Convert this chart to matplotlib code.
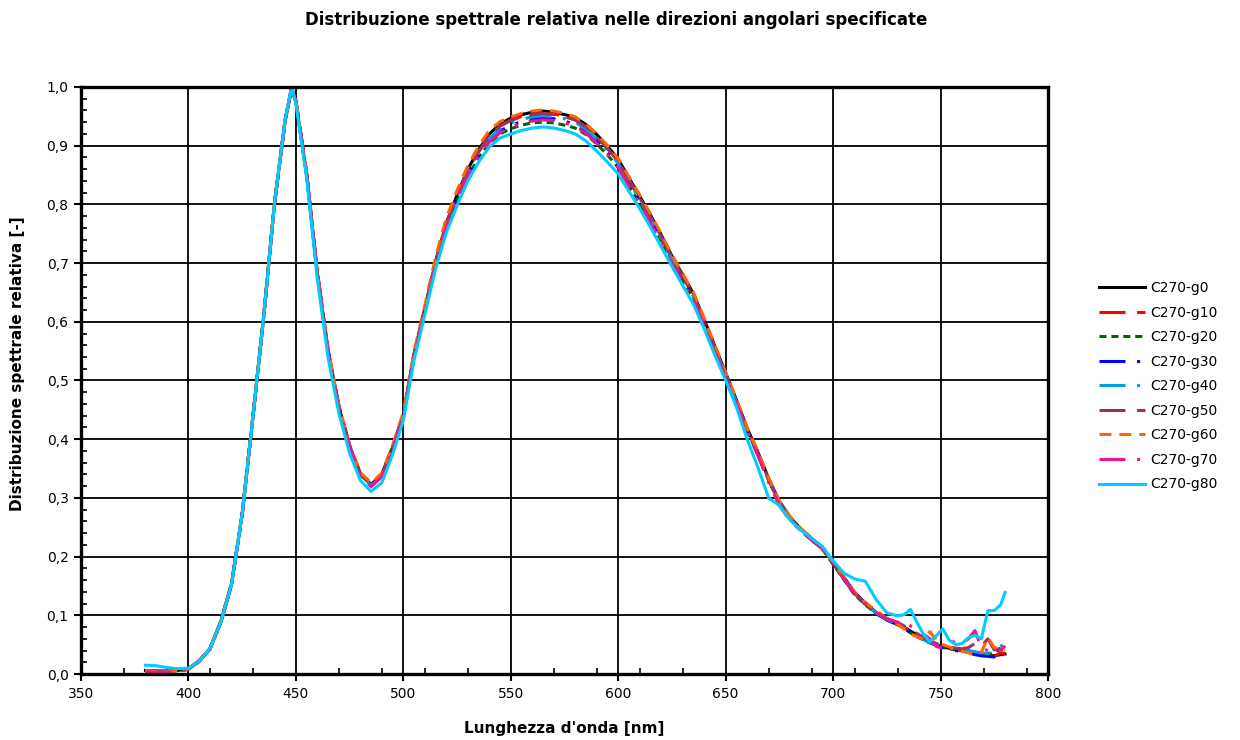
import matplotlib.pyplot as plt
from matplotlib.ticker import MultipleLocator, FuncFormatter

# Lunghezze d'onda [nm]
lunghezze = [380, 385, 390, 395, 400, 405, 410, 415, 420, 425, 430, 435, 440, 445, 448,
             450, 455, 460, 465, 470, 475, 480, 485, 490, 495, 500, 505, 510, 515, 520, 525, 530, 535, 540, 545,
             550, 555, 560, 565, 570, 575, 580, 585, 590, 595, 600, 605, 610, 615, 620, 625, 630, 635, 640, 645,
             650, 655, 660, 665, 670, 675, 680, 685, 690, 695, 700, 705, 710, 715, 720, 725, 730,
             733, 736, 739, 742, 745, 748, 751, 754, 757, 760, 763, 766, 769, 772, 775, 778, 780]

# Distribuzione spettrale relativa per ogni direzione angolare
g0 = [0.006, 0.005, 0.005, 0.006, 0.009, 0.022, 0.043, 0.088, 0.152, 0.272, 0.438, 0.608, 0.800, 0.943, 1.000,
      0.975, 0.850, 0.680, 0.548, 0.455, 0.388, 0.340, 0.323, 0.340, 0.386, 0.442, 0.545, 0.622, 0.702, 0.768, 0.816, 0.860, 0.893, 0.920, 0.937,
      0.947, 0.953, 0.957, 0.959, 0.957, 0.953, 0.948, 0.936, 0.919, 0.899, 0.877, 0.845, 0.814, 0.782, 0.748, 0.712, 0.680, 0.648, 0.604, 0.558,
      0.513, 0.467, 0.419, 0.378, 0.333, 0.294, 0.267, 0.247, 0.231, 0.216, 0.190, 0.165, 0.139, 0.121, 0.105, 0.094, 0.087,
      0.080, 0.073, 0.067, 0.060, 0.055, 0.050, 0.046, 0.044, 0.042, 0.040, 0.039, 0.037, 0.035, 0.032, 0.031, 0.033, 0.034]
g10 = [0.004, 0.004, 0.004, 0.005, 0.009, 0.023, 0.044, 0.090, 0.154, 0.274, 0.440, 0.610, 0.802, 0.945, 0.995,
       0.978, 0.855, 0.685, 0.552, 0.457, 0.390, 0.342, 0.325, 0.341, 0.387, 0.441, 0.545, 0.623, 0.703, 0.768, 0.815, 0.858, 0.890, 0.917, 0.934,
       0.944, 0.950, 0.954, 0.955, 0.954, 0.950, 0.944, 0.932, 0.915, 0.896, 0.873, 0.842, 0.811, 0.779, 0.745, 0.709, 0.677, 0.645, 0.601, 0.555,
       0.510, 0.464, 0.416, 0.375, 0.331, 0.292, 0.265, 0.245, 0.229, 0.214, 0.188, 0.163, 0.137, 0.119, 0.104, 0.093, 0.085,
       0.079, 0.072, 0.066, 0.060, 0.054, 0.050, 0.046, 0.043, 0.042, 0.040, 0.038, 0.036, 0.034, 0.031, 0.030, 0.036, 0.035]
g20 = [0.005, 0.004, 0.004, 0.005, 0.008, 0.022, 0.043, 0.087, 0.151, 0.271, 0.437, 0.607, 0.799, 0.942, 0.998,
       0.974, 0.850, 0.681, 0.549, 0.454, 0.387, 0.340, 0.323, 0.339, 0.385, 0.439, 0.541, 0.617, 0.696, 0.760, 0.806, 0.848, 0.879, 0.904, 0.920,
       0.929, 0.935, 0.939, 0.940, 0.939, 0.935, 0.930, 0.919, 0.903, 0.884, 0.863, 0.832, 0.802, 0.771, 0.738, 0.703, 0.671, 0.640, 0.597, 0.552,
       0.508, 0.463, 0.415, 0.374, 0.330, 0.291, 0.264, 0.244, 0.228, 0.213, 0.187, 0.161, 0.135, 0.118, 0.103, 0.092, 0.084,
       0.078, 0.070, 0.064, 0.058, 0.053, 0.049, 0.045, 0.043, 0.041, 0.039, 0.037, 0.036, 0.034, 0.033, 0.037, 0.042, 0.040]
g30 = [0.005, 0.005, 0.004, 0.005, 0.009, 0.022, 0.043, 0.088, 0.152, 0.272, 0.439, 0.609, 0.801, 0.944, 0.997,
       0.976, 0.852, 0.682, 0.550, 0.455, 0.388, 0.340, 0.322, 0.339, 0.386, 0.440, 0.543, 0.619, 0.699, 0.763, 0.810, 0.852, 0.884, 0.909, 0.925,
       0.935, 0.941, 0.945, 0.947, 0.946, 0.942, 0.936, 0.925, 0.908, 0.889, 0.867, 0.836, 0.806, 0.774, 0.741, 0.706, 0.674, 0.642, 0.599, 0.553,
       0.509, 0.463, 0.415, 0.374, 0.330, 0.291, 0.264, 0.245, 0.229, 0.214, 0.188, 0.162, 0.136, 0.119, 0.103, 0.092, 0.084,
       0.078, 0.071, 0.065, 0.059, 0.054, 0.049, 0.045, 0.042, 0.040, 0.038, 0.036, 0.033, 0.031, 0.030, 0.029, 0.031, 0.036]
g40 = [0.006, 0.005, 0.005, 0.006, 0.009, 0.022, 0.043, 0.088, 0.152, 0.272, 0.438, 0.608, 0.800, 0.943, 0.998,
       0.975, 0.851, 0.681, 0.549, 0.454, 0.387, 0.339, 0.321, 0.338, 0.385, 0.440, 0.543, 0.620, 0.700, 0.764, 0.811, 0.854, 0.886, 0.912, 0.929,
       0.939, 0.945, 0.949, 0.951, 0.949, 0.946, 0.940, 0.928, 0.911, 0.892, 0.870, 0.839, 0.808, 0.776, 0.742, 0.707, 0.675, 0.643, 0.600, 0.554,
       0.510, 0.464, 0.416, 0.375, 0.331, 0.292, 0.265, 0.246, 0.230, 0.215, 0.189, 0.164, 0.138, 0.120, 0.104, 0.093, 0.085,
       0.079, 0.072, 0.066, 0.059, 0.054, 0.050, 0.048, 0.045, 0.043, 0.041, 0.040, 0.038, 0.036, 0.035, 0.040, 0.047, 0.054]
g50 = [0.005, 0.004, 0.004, 0.005, 0.008, 0.022, 0.043, 0.088, 0.152, 0.272, 0.438, 0.608, 0.800, 0.943, 0.997,
       0.976, 0.852, 0.683, 0.551, 0.456, 0.389, 0.341, 0.323, 0.340, 0.386, 0.441, 0.544, 0.622, 0.702, 0.767, 0.814, 0.857, 0.889, 0.916, 0.933,
       0.943, 0.949, 0.953, 0.955, 0.953, 0.949, 0.944, 0.932, 0.915, 0.895, 0.873, 0.842, 0.811, 0.779, 0.745, 0.710, 0.678, 0.646, 0.602, 0.556,
       0.511, 0.465, 0.417, 0.376, 0.332, 0.293, 0.266, 0.246, 0.230, 0.215, 0.189, 0.164, 0.138, 0.120, 0.105, 0.094, 0.088,
       0.082, 0.075, 0.069, 0.062, 0.057, 0.052, 0.048, 0.046, 0.044, 0.043, 0.045, 0.052, 0.047, 0.060, 0.041, 0.044, 0.048]
g60 = [0.005, 0.004, 0.004, 0.005, 0.009, 0.023, 0.044, 0.089, 0.153, 0.273, 0.440, 0.611, 0.803, 0.946, 0.998,
       0.977, 0.854, 0.685, 0.553, 0.458, 0.391, 0.343, 0.325, 0.342, 0.390, 0.446, 0.550, 0.628, 0.710, 0.777, 0.824, 0.866, 0.899, 0.926, 0.941,
       0.949, 0.955, 0.959, 0.961, 0.959, 0.955, 0.949, 0.937, 0.920, 0.900, 0.878, 0.847, 0.816, 0.784, 0.750, 0.714, 0.682, 0.650, 0.606, 0.560,
       0.514, 0.468, 0.420, 0.379, 0.334, 0.295, 0.268, 0.248, 0.231, 0.216, 0.190, 0.165, 0.140, 0.122, 0.108, 0.095, 0.085,
       0.077, 0.069, 0.063, 0.060, 0.072, 0.058, 0.050, 0.046, 0.042, 0.039, 0.036, 0.034, 0.037, 0.062, 0.045, 0.043, 0.040]
g70 = [0.004, 0.003, 0.003, 0.004, 0.008, 0.021, 0.042, 0.086, 0.150, 0.270, 0.436, 0.606, 0.798, 0.940, 0.996,
       0.976, 0.852, 0.682, 0.550, 0.454, 0.387, 0.339, 0.319, 0.336, 0.383, 0.439, 0.542, 0.618, 0.697, 0.761, 0.807, 0.849, 0.881, 0.906, 0.922,
       0.932, 0.938, 0.942, 0.944, 0.943, 0.939, 0.933, 0.921, 0.904, 0.885, 0.862, 0.831, 0.800, 0.768, 0.734, 0.699, 0.667, 0.636, 0.593, 0.549,
       0.506, 0.461, 0.414, 0.372, 0.326, 0.287, 0.261, 0.244, 0.228, 0.213, 0.187, 0.162, 0.137, 0.120, 0.105, 0.094, 0.088,
       0.090, 0.082, 0.076, 0.068, 0.060, 0.047, 0.044, 0.050, 0.057, 0.052, 0.060, 0.074, 0.044, 0.040, 0.036, 0.040, 0.048]
g80 = [0.015, 0.014, 0.011, 0.009, 0.010, 0.022, 0.043, 0.088, 0.152, 0.272, 0.438, 0.608, 0.800, 0.945, 1.000,
       0.972, 0.845, 0.672, 0.538, 0.444, 0.376, 0.330, 0.311, 0.326, 0.374, 0.432, 0.535, 0.612, 0.690, 0.752, 0.798, 0.840, 0.872, 0.898, 0.913,
       0.920, 0.926, 0.930, 0.932, 0.930, 0.926, 0.920, 0.908, 0.891, 0.872, 0.852, 0.822, 0.793, 0.761, 0.728, 0.694, 0.662, 0.630, 0.588, 0.543,
       0.500, 0.455, 0.400, 0.352, 0.300, 0.287, 0.262, 0.245, 0.231, 0.217, 0.193, 0.172, 0.162, 0.158, 0.127, 0.104, 0.099,
       0.101, 0.110, 0.088, 0.068, 0.055, 0.065, 0.077, 0.058, 0.050, 0.052, 0.062, 0.066, 0.060, 0.108, 0.108, 0.118, 0.139]

etichette = ["C270-g0", "C270-g10", "C270-g20", "C270-g30", "C270-g40",
             "C270-g50", "C270-g60", "C270-g70", "C270-g80"]
serie = [g0, g10, g20, g30, g40, g50, g60, g70, g80]

# Colori e tratteggi stile Excel
colori = ["#000000", "#FF0000", "#006600", "#0000FF", "#00A0E0",
          "#993366", "#FF6600", "#F0148C", "#00CCFF"]
tratti = ["-", (0, (8.5, 3.8)), (0, (2.3, 1.6)), (0, (8.5, 3.8, 1, 3.8)), (0, (8.5, 3.8, 1, 3.8)),
          (0, (8.5, 3.8)), (0, (3.9, 2.6)), (0, (8.5, 3.8, 1, 3.8)), "-"]

fig = plt.figure(figsize=(12.4, 7.4), dpi=100)
ax = fig.add_axes([81 / 1240, 1 - 674 / 740, (1048 - 81) / 1240, (674 - 87) / 740])

for valori, nome, col, ls in zip(serie, etichette, colori, tratti):
    ax.plot(lunghezze, valori, color=col, linestyle=ls, linewidth=2.2, label=nome)

ax.set_xlim(350, 800)
ax.set_ylim(0, 1)
ax.xaxis.set_major_locator(MultipleLocator(50))
ax.xaxis.set_minor_locator(MultipleLocator(20, offset=10))
ax.yaxis.set_major_locator(MultipleLocator(0.1))
ax.yaxis.set_minor_locator(MultipleLocator(0.02))
ax.yaxis.set_major_formatter(FuncFormatter(lambda v, p: f"{v:.1f}".replace(".", ",")))

ax.grid(True, which="major", color="black", linewidth=1.3)
ax.tick_params(which="major", direction="out", length=5, width=1.5, labelsize=10, pad=4)
ax.tick_params(which="minor", direction="in", length=4, width=1.2)
for s in ax.spines.values():
    s.set_linewidth(2.4)

# Titolo e nomi degli assi
fig.text(0.497, 1 - 20 / 740, "Distribuzione spettrale relativa nelle direzioni angolari specificate",
         ha="center", va="center", fontsize=12, fontweight="bold")
fig.text(564 / 1240, 1 - 728 / 740, "Lunghezza d'onda [nm]", ha="center", va="center",
         fontsize=11, fontweight="bold")
fig.text(18 / 1240, 1 - 364 / 740, "Distribuzione spettrale relativa [-]", ha="center", va="center",
         rotation=90, fontsize=11, fontweight="bold")

fig.legend(loc="upper left", bbox_to_anchor=(1092 / 1240, 1 - 274 / 740), frameon=False,
           fontsize=10, handlelength=3.3, handletextpad=0.4, labelspacing=0.76, borderpad=0)

fig.savefig("out.png", dpi=100)
